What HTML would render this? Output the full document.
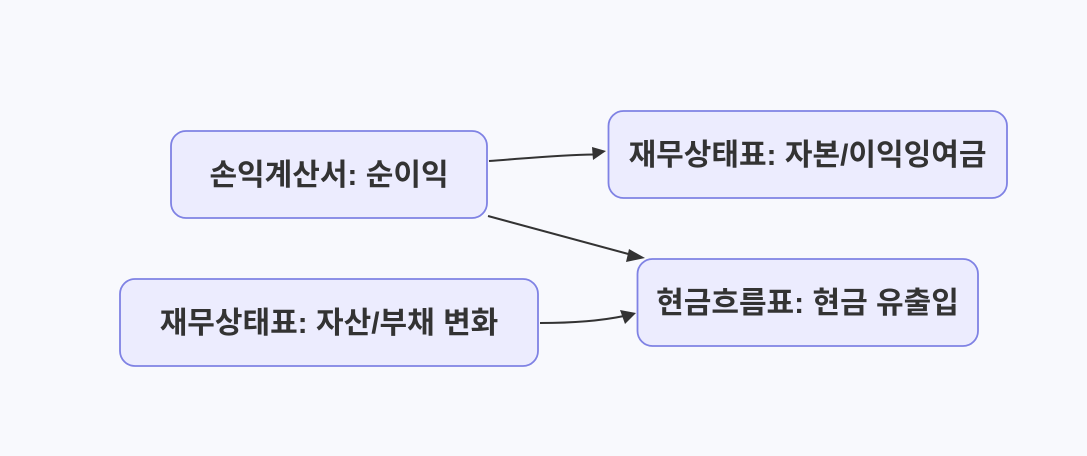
<!DOCTYPE html>
<html><head><meta charset="utf-8">
<style>
html,body{margin:0;padding:0;background:#f8f9fd;}
svg{display:block;}
text{font-family:"Liberation Sans","Noto Sans CJK KR",sans-serif;font-size:30px;font-weight:700;fill:#333;}
</style></head>
<body>
<svg width="1087" height="456" viewBox="0 0 1087 456" xmlns="http://www.w3.org/2000/svg">
<rect x="0" y="0" width="1087" height="456" fill="#f8f9fd"/>
<g fill="#ececfe" stroke="#7f82e4" stroke-width="1.8">
<rect x="171" y="131" width="316" height="87" rx="15"/>
<rect x="120" y="279" width="418" height="87" rx="15"/>
<rect x="608.5" y="111" width="398.5" height="87" rx="15"/>
<rect x="637.5" y="259" width="340.5" height="87" rx="15"/>
</g>
<g fill="none" stroke="#333" stroke-width="2">
<path d="M489 161 C530 158 560 155 594 154.5"/>
<path d="M488 216 L632 255"/>
<path d="M540 323 C575 323 600 321 624 316"/>
</g>
<g fill="#333">
<polygon points="606,151 592,147 593,160"/>
<polygon points="645,258 629,249 626,262"/>
<polygon points="636,313 620,310 625,324"/>
</g>
<text x="329" y="185" text-anchor="middle">손익계산서: 순이익</text>
<text x="329" y="333" text-anchor="middle">재무상태표: 자산/부채 변화</text>
<text x="807.5" y="165" text-anchor="middle">재무상태표: 자본/이익잉여금</text>
<text x="807.5" y="313" text-anchor="middle">현금흐름표: 현금 유출입</text>
</svg>
</body></html>
